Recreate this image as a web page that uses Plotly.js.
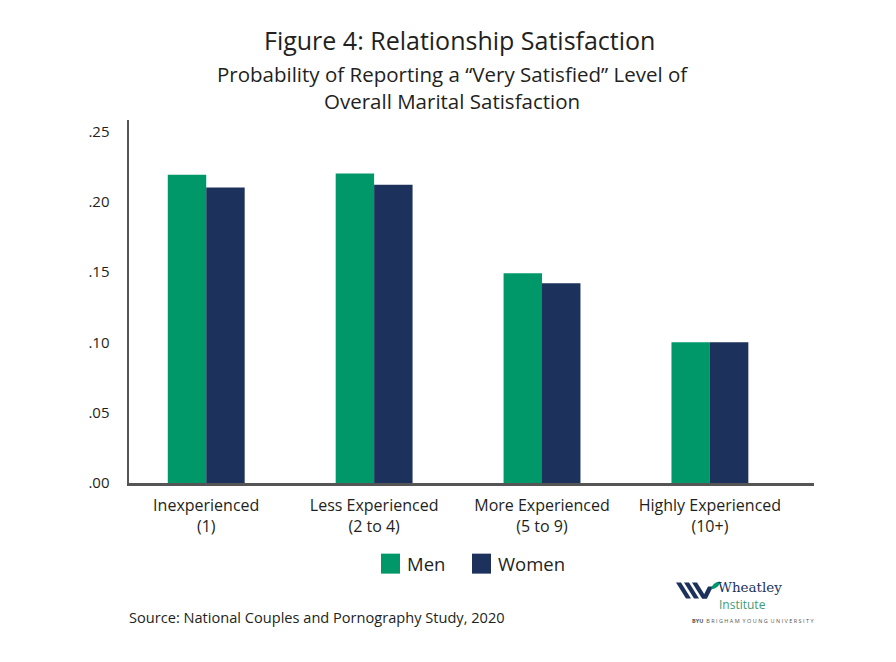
<!DOCTYPE html>
<html>
<head>
<meta charset="utf-8">
<script src="https://cdn.plot.ly/plotly-3.0.1.min.js"></script>
<style>html,body{margin:0;padding:0;background:#fff;}#chart{width:896px;height:662px;}</style>
</head>
<body>
<div id="chart"></div>
<script>
// ---- data ----
var categories = ["Inexperienced<br>(1)", "Less Experienced<br>(2 to 4)", "More Experienced<br>(5 to 9)", "Highly Experienced<br>(10+)"];
var men = [0.219, 0.220, 0.149, 0.100];
var women = [0.210, 0.212, 0.142, 0.100];
var seriesNames = ["Men", "Women"];
var seriesColors = ["#009869", "#1c325d"];
var yTickVals = [0, 0.05, 0.10, 0.15, 0.20, 0.25];
var yTickText = [".00", ".05", ".10", ".15", ".20", ".25"];
var titleText = "Figure 4: Relationship Satisfaction";
var subtitleText = "Probability of Reporting a “Very Satisfied” Level of<br>Overall Marital Satisfaction";
var sourceText = "Source: National Couples and Pornography Study, 2020";

// ---- layout helpers (pixel -> paper) ----
var L = 129, R = 814, T = 120, B = 483.3;
function px(x){ return (x - L) / (R - L); }
function py(y){ return (B - y) / (B - T); }

var FONT = "Open Sans, Noto Sans, sans-serif";
var TXT = "#231f20";

var traces = [
  {type: "bar", name: seriesNames[0], x: categories, y: men, marker: {color: seriesColors[0]}, hoverinfo: "y"},
  {type: "bar", name: seriesNames[1], x: categories, y: women, marker: {color: seriesColors[1]}, hoverinfo: "y"}
];

var shapes = [];
var annotations = [];

// titles
annotations.push({xref: "paper", yref: "paper", x: px(459), y: py(40), xanchor: "center", yanchor: "middle",
  text: titleText, showarrow: false, font: {family: FONT, size: 25, color: TXT}});
annotations.push({xref: "paper", yref: "paper", x: px(452), y: py(87), xanchor: "center", yanchor: "middle",
  text: subtitleText, showarrow: false, font: {family: FONT, size: 20.5, color: TXT}});

// legend (custom)
var legX = [381, 472];
for (var i = 0; i < 2; i++) {
  shapes.push({type: "rect", xref: "paper", yref: "paper", x0: px(legX[i]), x1: px(legX[i] + 19),
    y0: py(574), y1: py(554), fillcolor: seriesColors[i], line: {width: 0}});
  annotations.push({xref: "paper", yref: "paper", x: px(legX[i] + 24), y: py(564), xanchor: "left", yanchor: "middle",
    text: seriesNames[i], showarrow: false, font: {family: FONT, size: 18.5, color: TXT}});
}

// source
annotations.push({xref: "paper", yref: "paper", x: px(127), y: py(617), xanchor: "left", yanchor: "middle",
  text: sourceText, showarrow: false, font: {family: FONT, size: 14.6, color: TXT}});

// logo mark
function stripe(x1, x2, yTop, yBot, w) {
  return "M " + px(x1) + " " + py(yTop) + " L " + px(x1 + w) + " " + py(yTop) +
         " L " + px(x2 + w) + " " + py(yBot) + " L " + px(x2) + " " + py(yBot) + " Z";
}
var navy = seriesColors[1], green = seriesColors[0];
shapes.push({type: "path", xref: "paper", yref: "paper", path: stripe(676, 686, 583, 599, 5), fillcolor: navy, line: {width: 0}});
shapes.push({type: "path", xref: "paper", yref: "paper", path: stripe(684, 694, 583, 599, 5), fillcolor: navy, line: {width: 0}});
shapes.push({type: "path", xref: "paper", yref: "paper", path: stripe(692, 702, 583, 599, 5), fillcolor: navy, line: {width: 0}});
shapes.push({type: "path", xref: "paper", yref: "paper",
  path: "M " + px(702) + " " + py(599) + " L " + px(707) + " " + py(599) + " L " + px(713) + " " + py(587) + " L " + px(708) + " " + py(587) + " Z",
  fillcolor: navy, line: {width: 0}});
shapes.push({type: "path", xref: "paper", yref: "paper",
  path: "M " + px(711) + " " + py(590) + " Q " + px(712) + " " + py(583) + " " + px(720) + " " + py(582) + " Q " + px(719) + " " + py(589) + " " + px(711) + " " + py(590) + " Z",
  fillcolor: green, line: {width: 0}});
annotations.push({xref: "paper", yref: "paper", x: px(716), y: py(587), xanchor: "left", yanchor: "middle",
  text: "Wheatley", showarrow: false, font: {family: "DejaVu Serif, serif", size: 13.5, color: navy}});
annotations.push({xref: "paper", yref: "paper", x: px(717), y: py(605), xanchor: "left", yanchor: "middle",
  text: "Institute", showarrow: false, font: {family: FONT, size: 12, color: "#3f9a7a"}});
annotations.push({xref: "paper", yref: "paper", x: px(690), y: py(621), xanchor: "left", yanchor: "middle",
  text: "<b>BYU</b>  B R I G H A M  Y O U N G  U N I V E R S I T Y", showarrow: false,
  font: {family: FONT, size: 5.5, color: "#555"}});

var layout = {
  width: 896, height: 662,
  margin: {l: L, r: 896 - R, t: T, b: 662 - B, pad: 0},
  paper_bgcolor: "#fff", plot_bgcolor: "#fff",
  showlegend: false,
  barmode: "group", bargap: 0.542, bargroupgap: 0,
  font: {family: FONT, color: TXT},
  xaxis: {
    type: "category", range: [-0.46, 3.62], showline: true, linecolor: "#555", linewidth: 2.5,
    showgrid: false, zeroline: false, ticks: "", ticklabelstandoff: 6,
    tickfont: {family: FONT, size: 16, color: TXT}, fixedrange: true
  },
  yaxis: {
    range: [0, 0.258], showline: true, linecolor: "#555", linewidth: 2.5,
    showgrid: false, zeroline: false, ticks: "", tickvals: yTickVals, ticktext: yTickText,
    ticklabelstandoff: 14, tickfont: {family: FONT, size: 15, color: TXT}, fixedrange: true
  },
  shapes: shapes,
  annotations: annotations
};

Plotly.newPlot("chart", traces, layout, {displayModeBar: false, staticPlot: true});
</script>
</body>
</html>
